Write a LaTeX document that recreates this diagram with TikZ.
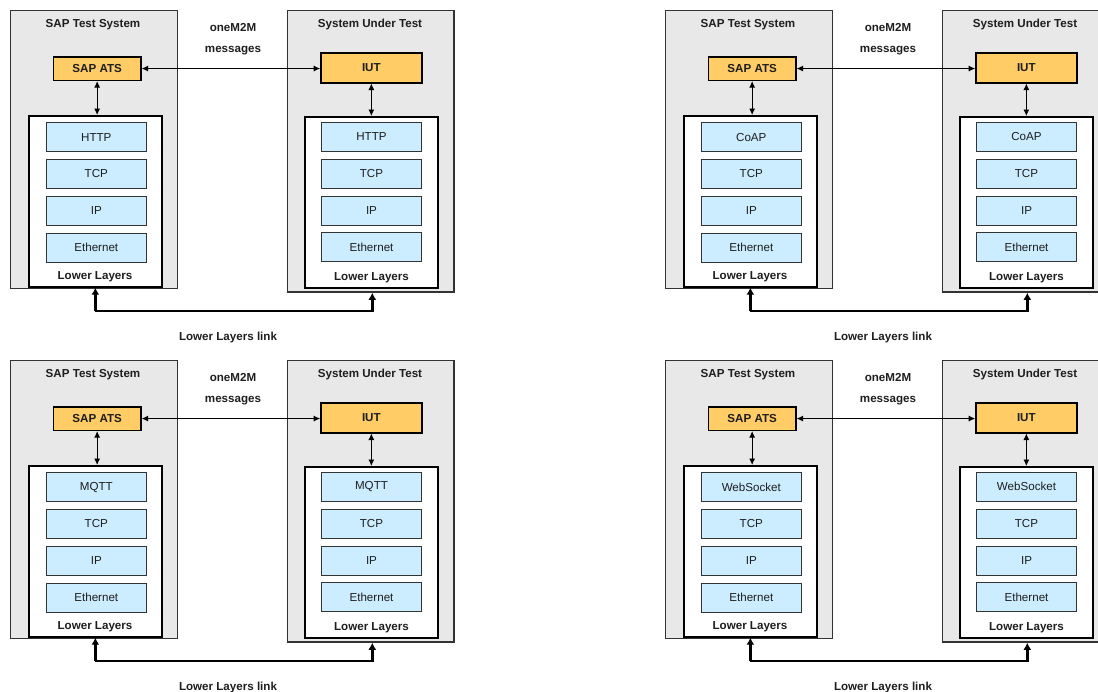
\documentclass[tikz,border=0pt]{standalone}
\usepackage{fontspec}
\setmainfont{Liberation Sans}
\usetikzlibrary{arrows.meta}
\definecolor{sysgrey}{HTML}{E8E8E8}
\definecolor{atsorange}{HTML}{FFCC66}
\definecolor{layerblue}{HTML}{CCECFF}
\definecolor{framegrey}{HTML}{333333}
\definecolor{txtdark}{HTML}{1E1E1E}

\tikzset{
  every node/.style={font=\fontsize{11.6}{13}\selectfont, inner sep=0pt, text=txtdark},
  sysbox/.style={draw=framegrey, line width=1.5pt, fill=sysgrey},
  entity/.style={draw=black, line width=1.6pt, fill=atsorange,
    font=\fontsize{11.6}{13}\selectfont\bfseries},
  stackbox/.style={draw=black, line width=2pt, fill=white},
  layer/.style={draw=framegrey, line width=1pt, fill=layerblue,
    minimum width=100, minimum height=29},
  caption/.style={font=\fontsize{11.6}{13}\selectfont\bfseries, anchor=base},
  msg/.style={{Latex[length=6.5pt,width=6pt]}-{Latex[length=6.5pt,width=6pt]}, line width=0.9pt},
  lllink/.style={-{Latex[length=7pt,width=8pt]}, line width=2.4pt}
}

% One test configuration: SAP test system on the left, system under test on the right
% #1,#2: offset, #3: top protocol of the stack, #4: node name prefix
\newcommand\protopanel[4]{%
\begin{scope}[shift={(#1,#2)}]
  % test system
  \node[sysbox, minimum width=166.6, minimum height=278.2] (#4sts) at (94,149.4) {};
  \node[caption] (#4ststitle) at (93,27.3) {SAP Test System};
  \node[entity, minimum width=87.3, minimum height=23.5] (#4ats) at (97.15,68.55) {SAP ATS};
  \node[stackbox, minimum width=133.3, minimum height=170.7] (#4llA) at (95.35,201.35) {};
  \node[layer] (#4aL1) at (96.3,137.2) {#3};
  \node[layer] (#4aL2) at (96.3,173.8) {TCP};
  \node[layer] (#4aL3) at (96.3,210.7) {IP};
  \node[layer] (#4aL4) at (96.3,247.8) {Ethernet};
  \node[caption] (#4aLL) at (95,279.3) {Lower Layers};
  % system under test
  \node[sysbox, minimum width=166.7, minimum height=281.3] (#4sut) at (370.65,151.35) {};
  \node[caption] (#4suttitle) at (370,27.3) {System Under Test};
  \node[entity, minimum width=100.7, minimum height=29.7] (#4iut) at (371.35,67.85) {IUT};
  \node[stackbox, minimum width=133.6, minimum height=170.7] (#4llB) at (371.5,202.35) {};
  \node[layer, minimum width=99.6] (#4bL1) at (371.5,136.8) {#3};
  \node[layer, minimum width=99.6] (#4bL2) at (371.5,173.8) {TCP};
  \node[layer, minimum width=99.6] (#4bL3) at (371.5,210.5) {IP};
  \node[layer, minimum width=99.6] (#4bL4) at (371.5,247) {Ethernet};
  \node[caption] (#4bLL) at (371.5,280.3) {Lower Layers};
  % messages
  \node[caption] (#4m1) at (233,31.3) {oneM2M};
  \node[caption] (#4m2) at (233,52.3) {messages};
  \draw[msg] (#4ats.east) -- (#4ats.east -| #4iut.west);
  \draw[msg] (#4ats.south) -- (#4ats.south |- #4llA.north);
  \draw[msg] (#4iut.south) -- (#4iut.south |- #4llB.north);
  % lower layers link
  \coordinate (#4lkA) at ([yshift=-23pt]#4llA.south);
  \draw[lllink] (#4lkA) -| ([xshift=0.8pt]#4llB.south |- #4sut.south);
  \draw[lllink] (#4lkA) -- (#4llA.south);
  \node[caption] (#4lk) at (228,340.3) {Lower Layers link};
\end{scope}}

\begin{document}
\begin{tikzpicture}[x=1pt,y=-1pt]
  \useasboundingbox (0,0) rectangle (1098,691);
  \clip (0,0) rectangle (1098,691);
  \protopanel{0}{0}{HTTP}{p}
  \protopanel{655}{0}{CoAP}{q}
  \protopanel{0}{350}{MQTT}{r}
  \protopanel{655}{350}{WebSocket}{s}
\end{tikzpicture}
\end{document}
